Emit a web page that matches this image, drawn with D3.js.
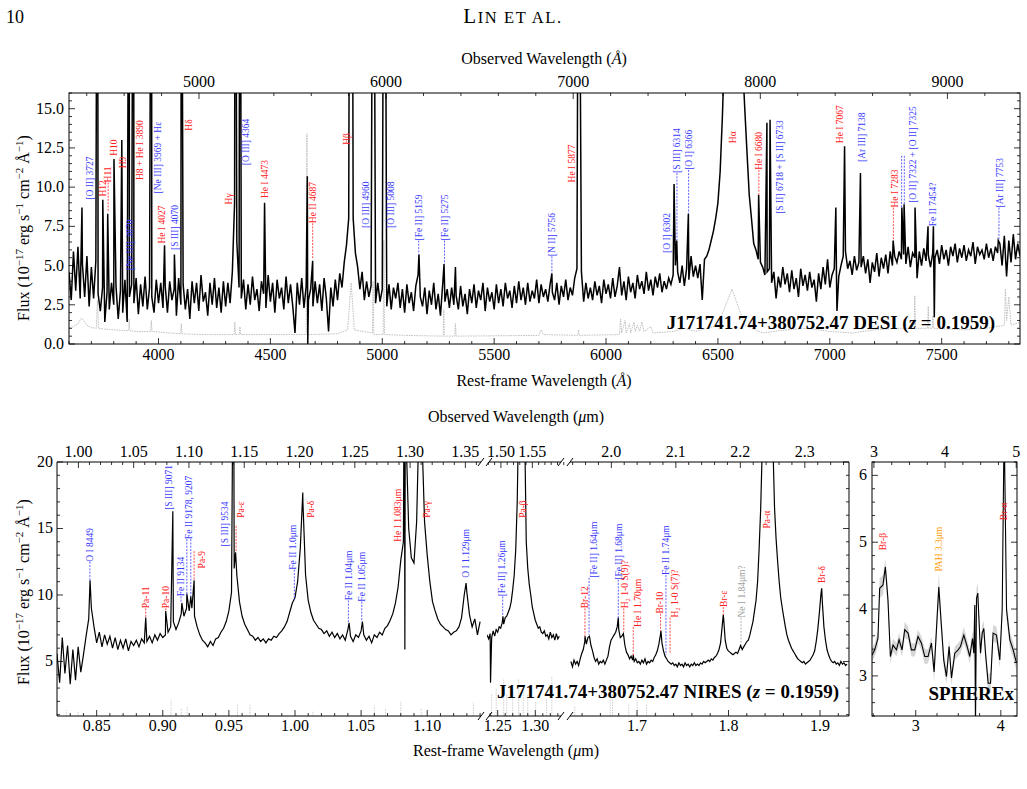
<!DOCTYPE html>
<html>
<head>
<meta charset="utf-8">
<script src="https://cdn.jsdelivr.net/npm/d3@7/dist/d3.min.js"></script>
<style>
body { margin: 0; background: #fff; }
svg { display: block; font-family: "Liberation Serif", "Times New Roman", serif; }
</style>
</head>
<body>
<div id="chart"></div>
<script>
const z = 0.1959;

// ---------- DESI optical spectrum (rest frame, Å) ----------
const desiStart = 3600, desiStep = 10;
const desiCont = [
  4.6, 2.8, 5.9, 3.4, 6.2, 2.9, 5.1, 3.0, 5.6, 2.4,   // 3600
  4.9, 2.9, 5.3, 3.2, 2.1, 3.6, 1.4, 3.3, 2.2, 3.9,   // 3700
  2.5, 3.7, 1.6, 3.4, 2.0, 4.1, 1.4, 3.0, 3.8, 2.6,   // 3800
  4.2, 1.9, 3.8, 2.4, 4.3, 2.2, 3.6, 3.0, 2.0, 4.1,   // 3900
  2.6, 3.9, 2.3, 3.7, 2.0, 4.0, 2.8, 3.5, 1.8, 4.2,   // 4000
  2.5, 3.8, 2.2, 3.5, 1.6, 4.0, 2.6, 3.9, 2.1, 4.4,   // 4100
  2.7, 3.3, 1.8, 3.9, 2.5, 4.2, 2.3, 3.6, 2.0, 4.0,   // 4200
  2.4, 3.9, 2.6, 4.6, 9.0, 6.5, 3.6, 2.9, 4.1, 2.2,   // 4300
  3.8, 2.5, 4.3, 2.8, 3.5, 2.1, 4.0, 3.2, 2.3, 4.4,   // 4400
  2.7, 3.9, 2.0, 4.1, 2.9, 3.6, 2.2, 4.3, 2.6, 3.8,   // 4500
  2.4, 0.7, 3.9, 2.5, 4.2, 2.3, 3.7, 2.8, 3.5, 2.4,   // 4600
  4.0, 2.6, 3.8, 2.1, 4.2, 2.9, 0.8, 3.6, 2.4, 4.1,   // 4700
  2.8, 4.5, 3.6, 5.2, 6.3, 8.0, 40, 8.0, 5.8, 4.9,    // 4800
  3.5, 4.6, 2.8, 4.0, 3.0, 3.7, 40, 2.6, 3.9, 2.7,    // 4900
  3.5, 40, 2.4, 3.8, 2.2, 3.6, 2.9, 3.9, 2.3, 3.5,    // 5000
  2.0, 3.8, 2.6, 3.3, 2.1, 3.7, 4.4, 3.0, 2.4, 3.6,   // 5100
  1.9, 3.4, 2.5, 3.9, 2.2, 3.2, 1.8, 3.8, 2.7, 3.5,   // 5200
  2.3, 3.6, 2.5, 3.1, 2.2, 3.7, 2.4, 3.2, 1.9, 3.5,   // 5300
  2.6, 3.8, 2.3, 3.4, 2.8, 3.9, 2.1, 3.6, 2.7, 3.3,   // 5400
  2.2, 3.8, 2.6, 3.5, 2.4, 3.9, 2.9, 3.4, 2.3, 3.7,   // 5500
  2.6, 4.0, 2.8, 3.6, 2.5, 3.9, 2.7, 3.4, 2.9, 4.1,   // 5600
  2.6, 3.8, 3.0, 3.5, 2.7, 3.8, 3.3, 2.8, 3.9, 2.5,   // 5700
  3.7, 3.0, 4.1, 2.8, 3.6, 3.1, 4.2, 4.8, 30, 4.6,    // 5800
  2.7, 3.9, 2.9, 3.6, 2.8, 4.0, 3.1, 3.7, 2.6, 4.1,   // 5900
  3.2, 3.8, 2.9, 4.2, 3.0, 3.7, 4.9, 3.1, 4.0, 2.8,   // 6000
  4.3, 3.3, 3.9, 2.9, 4.4, 3.5, 4.0, 3.2, 4.6, 3.4,   // 6100
  4.1, 3.1, 4.3, 3.6, 4.5, 3.3, 4.0, 3.5, 4.2, 3.8,   // 6200
  4.4, 5.0, 4.6, 3.9, 5.0, 3.7, 4.8, 4.1, 5.6, 4.3,   // 6300
  5.0, 4.2, 5.1, 2.8, 5.4, 5.6, 6.0, 6.6, 7.2, 8.0,   // 6400
  9.0, 11.0, 14.5, 19, 28, 40, 50, 50, 42, 32,        // 6500
  24, 18, 15.0, 12.2, 9.5, 8.0, 6.4, 6.0, 5.4, 5.2,   // 6600
  4.9, 4.4, 4.6, 4.8, 3.9, 4.6, 2.9, 4.3, 3.6, 4.9,   // 6700
  3.8, 4.5, 3.3, 4.7, 3.5, 4.2, 3.0, 4.8, 3.7, 4.4,   // 6800
  3.4, 4.6, 3.6, 4.1, 2.7, 4.5, 3.5, 4.9, 3.8, 5.4,   // 6900
  3.6, 4.4, 4.8, 4.1, 4.3, 5.0, 5.6, 5.9, 4.8, 5.3,   // 7000
  4.4, 5.6, 4.7, 5.2, 4.9, 5.6, 4.5, 5.4, 3.9, 5.2,   // 7100
  4.6, 5.8, 4.3, 5.5, 4.8, 5.7, 4.5, 5.9, 5.0, 5.6,   // 7200
  5.2, 5.9, 5.4, 5.7, 5.1, 6.2, 4.9, 5.8, 5.5, 4.2,   // 7300
  5.9, 5.0, 6.1, 5.3, 5.7, 4.9, 5.8, 5.5, 6.0, 5.1,   // 7400
  6.3, 5.4, 6.0, 5.0, 6.2, 5.6, 6.4, 5.2, 6.1, 5.5,   // 7500
  6.3, 5.3, 6.0, 5.6, 6.5, 5.1, 6.2, 5.7, 6.0, 5.4,   // 7600
  6.4, 5.5, 6.1, 5.3, 6.2, 5.8, 6.4, 5.0, 6.9, 4.3,   // 7700
  6.6, 5.2, 7.0, 5.4, 6.4, 5.6                        // 7800
];
// narrow emission / absorption features [wavelength, flux]
const desiLines = [
  [3658, 8.7], [3725, 30], [3728, 30], [3751, 9.2], [3773, 8.3], [3801, 11.8],
  [3836, 13.0], [3867, 30], [3869, 30], [3886, 30], [3889, 30], [3966, 30],
  [3969, 30], [4027, 6.3], [4071, 5.7], [4102, 30], [4104, 30], [4342, 30],
  [4345, 30], [4363, 30], [4366, 30], [4474, 9.0], [4665, 10.7], [4667, 0.0],
  [4689, 5.3], [4854, 30], [4866, 30], [4957, 30], [4963, 30], [5006, 30],
  [5013, 30], [5164, 5.7], [5276, 5.1], [5327, 4.9], [5758, 4.5], [5876, 30],
  [6304, 10.2], [6316, 6.6], [6368, 8.3], [6682, 9.5], [6719, 14.1], [6733, 14.3],
  [7027, 8.7], [7032, 2.1], [7066, 12.6], [7137, 10.9], [7283, 6.6], [7322, 8.7],
  [7332, 8.9], [7381, 8.7], [7439, 7.5], [7463, 7.5], [7467, 1.7], [7753, 6.6]
];
const desiErr = [
  [3600, 1.05], [3620, 1.1], [3640, 1.3], [3655, 1.65], [3665, 1.5], [3680, 1.2],
  [3700, 1.05], [3722, 1.0], [3727, 2.8], [3732, 1.0], [3760, 0.95], [3800, 0.9],
  [3866, 0.85], [3869, 1.6], [3872, 0.85], [3900, 0.8], [3965, 0.8], [3968, 1.5],
  [3971, 0.8], [4050, 0.7], [4099, 0.65], [4102, 1.3], [4105, 0.65], [4200, 0.6],
  [4300, 0.6], [4338, 0.6], [4341, 1.4], [4344, 0.6], [4361, 0.6], [4364, 1.1],
  [4367, 0.6], [4500, 0.6], [4600, 0.6], [4660, 0.6], [4663, 13.4], [4666, 0.6],
  [4800, 0.65], [4845, 0.9], [4861, 3.9], [4875, 0.9], [4956, 0.7], [4959, 4.0],
  [4962, 0.6], [5004, 0.6], [5007, 6.6], [5010, 0.6], [5100, 0.55], [5272, 0.5],
  [5275, 2.2], [5278, 0.5], [5324, 0.5], [5327, 1.3], [5330, 0.5], [5700, 0.55],
  [5710, 0.9], [5720, 0.6], [5874, 0.55], [5877, 0.9], [5880, 0.55], [6060, 0.6],
  [6065, 1.6], [6070, 0.7], [6085, 1.5], [6090, 0.7], [6105, 1.3], [6110, 0.7],
  [6125, 1.4], [6130, 0.8], [6140, 1.2], [6150, 0.8], [6160, 1.4], [6170, 0.8],
  [6200, 1.1], [6210, 0.7], [6300, 0.8], [6350, 1.0], [6400, 0.8], [6500, 1.2],
  [6563, 3.5], [6620, 1.2], [6700, 0.7], [6800, 0.9], [6900, 1.0], [7000, 0.8],
  [7100, 0.7], [7200, 0.9], [7300, 1.0], [7377, 1.0], [7380, 3.1], [7383, 1.0],
  [7437, 1.0], [7440, 2.4], [7443, 1.0], [7458, 1.0], [7461, 1.8], [7464, 1.0],
  [7600, 0.9], [7700, 1.0], [7780, 1.2], [7785, 3.5], [7790, 1.5], [7800, 3.0],
  [7810, 1.2], [7850, 1.4]
];
// [text, kind, wavelength of text, flux at text start, dashed connectors]
const desiLabels = [
  ["[O II] 3727", "M", 3691, 9.2],
  ["H12", "H", 3752, 9.4],
  ["H11", "H", 3775, 10.3, [[3775, 10.3, 8.4]]],
  ["H10", "H", 3801, 12.0],
  ["H9", "H", 3840, 11.2],
  ["[Ne III] 3870", "M", 3873, 4.7],
  ["H8 + He I 3890", "H", 3918, 10.45],
  ["[Ne III] 3969 + Hε", "M", 3998, 9.6],
  ["He I 4027", "H", 4016, 6.4],
  ["[S III] 4070", "M", 4071, 6.0],
  ["Hδ", "H", 4136, 13.6],
  ["Hγ", "H", 4312, 8.9],
  ["[O III] 4364", "M", 4388, 11.4],
  ["He I 4473", "H", 4473, 9.3],
  ["He II 4687", "H", 4689, 7.7, [[4689, 7.7, 5.4]]],
  ["Hβ", "H", 4843, 12.7],
  ["[O III] 4960", "M", 4925, 7.4],
  ["[O III] 5008", "M", 5037, 7.4],
  ["[Fe II] 5159", "M", 5163, 6.6, [[5163, 6.6, 5.7]]],
  ["[Fe II] 5275", "M", 5278, 6.6, [[5278, 6.6, 5.1]]],
  ["[N II] 5756", "M", 5758, 5.6, [[5758, 5.6, 4.5]]],
  ["He I 5877", "H", 5846, 10.3],
  ["[O I] 6302", "M", 6272, 5.8],
  ["[S III] 6314", "M", 6317, 10.9, [[6317, 10.9, 6.6]]],
  ["[O I] 6366", "M", 6369, 11.1, [[6369, 11.1, 8.3]]],
  ["Hα", "H", 6566, 12.8],
  ["He I 6680", "H", 6683, 11.1, [[6683, 11.1, 9.5]]],
  ["[S II] 6718 + [S II] 6733", "M", 6778, 8.3],
  ["He I 7067", "H", 7046, 12.8],
  ["[Ar III] 7138", "M", 7141, 11.6],
  ["He I 7283", "H", 7288, 8.7, [[7284, 8.7, 6.6]]],
  ["[O II] 7322 + [O II] 7325", "M", 7369, 9.0, [[7321, 12.0, 8.7], [7333, 12.0, 8.9]]],
  ["Fe II 7454?", "M", 7461, 7.5],
  ["[Ar III] 7753", "M", 7760, 8.7, [[7756, 8.7, 6.6]]]
];
const desiRestTicks = [4000, 4500, 5000, 5500, 6000, 6500, 7000, 7500];
const desiObsTicks = [5000, 6000, 7000, 8000, 9000];
const desiFluxTicks = [0, 2.5, 5, 7.5, 10, 12.5, 15];

// ---------- NIRES near-IR spectrum (rest frame, µm) ----------
const niresStep = 0.002;
const niresStarts = [0.820, 1.236, 1.620];
const niresCont1 = [
  5.6, 3.4, 6.8, 4.1, 6.2, 3.3, 5.9, 3.6, 6.1, 4.2,    // 0.820
  5.5, 6.9, 8.2, 9.0, 7.6, 6.4, 7.2, 6.1, 7.0, 6.3,    // 0.840
  6.9, 6.0, 6.8, 5.9, 6.6, 6.0, 6.7, 5.8, 6.5, 6.2,    // 0.860
  6.6, 6.1, 6.7, 6.4, 6.5, 6.9, 6.4, 7.0, 6.6, 7.1,    // 0.880
  6.8, 7.0, 7.2, 7.6, 8.0, 7.4, 7.9, 8.6, 8.4, 9.0,    // 0.900
  8.8, 9.0, 8.4, 7.6, 7.0, 6.6, 6.4, 6.1, 6.5, 6.2,    // 0.920
  6.7, 6.8, 7.2, 7.5, 8.0, 8.8, 10.2, 12.0, 11.5, 9.5, // 0.940
  8.4, 7.8, 7.4, 7.0, 6.9, 6.6, 6.8, 6.5, 6.7, 6.4,    // 0.960
  6.7, 6.6, 6.9, 6.8, 7.1, 7.3, 7.6, 8.0, 8.7, 9.4,    // 0.980
  9.8, 11.0, 13.5, 17.0, 11.5, 9.6, 8.7, 8.1, 7.8, 7.5,// 1.000
  7.4, 7.1, 7.3, 6.9, 7.2, 6.8, 7.1, 6.7, 7.0, 6.6,    // 1.020
  7.4, 6.9, 6.5, 7.0, 6.8, 7.3, 7.0, 6.6, 6.9, 6.4,    // 1.040
  7.0, 6.8, 7.2, 7.0, 7.5, 7.7, 8.1, 8.6, 9.4, 10.6,   // 1.060
  12.6, 14.0, 22, 15, 12.8, 12.4, 15.5, 24, 22, 15.5,  // 1.080
  13.0, 11.0, 9.5, 8.8, 8.2, 7.8, 7.6, 7.4, 7.3, 7.0,  // 1.100
  7.2, 7.3, 7.6, 8.3, 10.0, 10.2, 8.5, 7.6, 8.2, 7.0,  // 1.120
  8.0                                                   // 1.140
];
const niresCont2 = [
  7.0, 6.7, 7.1, 6.8, 7.3, 6.9, 7.4, 7.2, 7.6, 7.5,    // 1.236
  7.9, 7.8, 8.3, 8.4, 8.7, 9.0, 9.5, 10.4, 11.5, 13.4, // 1.256
  17.0, 24, 30, 30, 30, 22, 14.0, 12.0, 10.8, 10.0,    // 1.276
  9.1, 8.6, 8.1, 7.8, 7.5, 7.6, 7.2, 7.1, 7.3, 6.9,    // 1.296
  7.0, 6.7, 7.2, 6.8, 7.0, 6.6, 7.1, 6.7, 6.9          // 1.316
];
const niresCont3 = [
  5.0, 4.6, 5.1, 4.8, 5.0, 4.7, 5.2, 5.6, 5.9, 6.5,    // 1.620
  6.3, 6.8, 6.9, 6.2, 5.8, 5.3, 5.0, 5.2, 4.8, 5.0,    // 1.640
  4.9, 5.1, 4.8, 5.1, 5.4, 6.1, 6.6, 6.8, 7.0, 7.2,    // 1.660
  7.6, 7.4, 6.8, 6.9, 7.1, 6.2, 5.7, 5.5, 5.2, 5.4,    // 1.680
  5.1, 5.0, 5.2, 4.9, 5.0, 4.8, 5.1, 4.9, 5.2, 4.8,    // 1.700
  5.0, 4.9, 5.1, 5.0, 5.3, 5.5, 5.8, 6.3, 7.0, 6.4,    // 1.720
  5.8, 5.4, 5.2, 5.0, 4.9, 4.8, 4.9, 4.7, 4.8, 4.6,    // 1.740
  4.9, 4.7, 4.8, 4.6, 4.9, 4.7, 4.8, 4.6, 4.8, 4.7,    // 1.760
  4.9, 4.7, 4.8, 4.7, 4.9, 4.8, 5.0, 4.9, 5.0, 5.1,    // 1.780
  5.0, 5.2, 5.1, 5.3, 5.4, 5.6, 5.9, 6.4, 7.6, 8.2,    // 1.800
  6.6, 6.0, 5.8, 5.7, 5.6, 5.5, 5.6, 5.7, 5.6, 5.9,    // 1.820
  6.2, 5.9, 6.1, 6.3, 6.5, 6.6, 7.0, 7.5, 8.0, 8.8,    // 1.840
  9.6, 11.0, 13.5, 16.5, 21, 28, 34, 38, 38, 34,       // 1.860
  27, 21, 16.5, 14.2, 12.5, 11.0, 9.8, 9.0, 8.3, 7.6,  // 1.880
  7.0, 6.6, 6.3, 6.0, 5.8, 5.6, 5.4, 5.2, 5.1, 5.0,    // 1.900
  4.9, 5.0, 4.8, 4.9, 5.0, 5.1, 5.3, 5.5, 5.8, 6.5,    // 1.920
  7.4, 8.6, 10.0, 9.4, 7.6, 6.6, 5.9, 5.5, 5.2, 5.0,   // 1.940
  4.9, 5.0, 4.8, 4.9, 4.7, 5.0, 4.8, 4.9, 4.7, 4.8     // 1.960
];
const niresLines = [
  [0.845, 11.1], [0.8871, 8.3], [0.9022, 8.8], [0.9076, 16.3], [0.9144, 9.4],
  [0.9182, 10.1], [0.9212, 9.9], [0.9237, 11.1], [0.9533, 30], [0.9536, 30],
  [0.9551, 13.2], [1.0059, 17.7], [1.0409, 7.9], [1.051, 8.0], [1.0827, 30],
  [1.0831, 5.9], [1.0835, 30], [1.0946, 30], [1.1294, 10.9],
  [1.2405, 3.4], [1.257, 8.4],
  [1.6382, 6.9], [1.6814, 8.3], [1.7008, 5.5], [1.7367, 7.3], [1.8175, 8.5],
  [1.9451, 10.5]
];
const niresErrSpikes = [
  [0.827, 1.35], [0.836, 1.25], [0.9063, 2.1], [0.914, 1.5], [0.9185, 1.6],
  [0.9565, 1.8], [0.966, 1.75], [1.0135, 1.3], [1.06, 1.7], [1.0685, 1.5],
  [1.08, 2.0], [1.0955, 1.5], [1.135, 1.9],
  [1.242, 2.6], [1.248, 3.0], [1.258, 3.7], [1.262, 2.5], [1.27, 2.8],
  [1.278, 3.7], [1.284, 2.9], [1.29, 2.5], [1.3005, 2.0], [1.315, 2.2], [1.322, 3.9],
  [1.625, 1.6], [1.671, 3.6], [1.674, 2.5], [1.695, 1.8], [1.706, 2.1],
  [1.718, 1.8], [1.73, 1.3]
];
const niresLabels = [
  ["O I 8449", "M", 0.8445, 12.5, [[0.8449, 12.5, 11.1]]],
  ["Pa-11", "H", 0.8871, 9.0, [[0.8871, 9.0, 8.3]]],
  ["Pa-10", "H", 0.9023, 9.0, [[0.9023, 9.0, 8.8]]],
  ["[S III] 9071", "M", 0.9042, 16.4],
  ["Fe II 9134", "M", 0.9138, 9.9, [[0.9138, 9.9, 9.4]]],
  ["Fe II 9178, 9207", "M", 0.9199, 14.2, [[0.9182, 14.2, 10.1], [0.9212, 14.2, 9.9]]],
  ["Pa-9", "H", 0.9295, 12.0, [[0.9237, 13.3, 11.1]]],
  ["[S III] 9534", "M", 0.9466, 13.65],
  ["Pa-ε", "H", 0.959, 15.8, [[0.9555, 15.2, 13.2]]],
  ["Fe II 1.0μm", "M", 0.9983, 11.9, [[0.9995, 11.9, 9.6]]],
  ["Pa-δ", "H", 1.012, 15.8],
  ["Fe II 1.04μm", "M", 1.0404, 9.6, [[1.0404, 9.6, 7.9]]],
  ["Fe II 1.05μm", "M", 1.0505, 9.5, [[1.0505, 9.5, 8.0]]],
  ["He I 1.083μm", "H", 1.0775, 14.0],
  ["Pa-γ", "H", 1.0997, 15.8],
  ["O I 1.129μm", "M", 1.1294, 11.3],
  ["[Fe II] 1.26μm", "M", 1.2557, 9.9, [[1.2567, 9.9, 8.4]]],
  ["Pa-β", "H", 1.2836, 15.8],
  ["Br-12", "H", 1.6382, 9.0, [[1.6382, 9.0, 6.9]]],
  ["[Fe II] 1.64μm", "M", 1.649, 11.3, [[1.6435, 11.3, 7.0]]],
  ["[Fe II] 1.68μm", "M", 1.6814, 11.15, [[1.6814, 11.15, 8.3]]],
  ["H₂ 1-0 S(9)?", "H", 1.6901, 9.0, [[1.6885, 9.0, 7.2]]],
  ["He I 1.70μm", "H", 1.7065, 7.6, [[1.7008, 7.6, 5.4]]],
  ["Br-10", "H", 1.7355, 8.6, [[1.7362, 8.6, 7.3]]],
  ["Fe II 1.74μm", "M", 1.7432, 11.5, [[1.7432, 11.5, 5.5]]],
  ["H₂ 1-0 S(7)?", "H", 1.7549, 8.3, [[1.7485, 8.3, 5.6]]],
  ["Br-ε", "H", 1.8175, 9.1, [[1.8175, 9.1, 8.5]]],
  ["Ne I 1.84μm?", "U", 1.8414, 8.3, [[1.8405, 8.3, 6.25]]],
  ["Pa-α", "H", 1.8738, 15.0],
  ["Br-δ", "H", 1.9451, 10.9]
];
const niresRestTicks = [[0.85, 0.90, 0.95, 1.00, 1.05, 1.10], [1.25, 1.30], [1.7, 1.8, 1.9]];
const niresObsTicks = [[1.00, 1.05, 1.10, 1.15, 1.20, 1.25, 1.30, 1.35], [1.50, 1.55], [2.0, 2.1, 2.2, 2.3]];
const niresFluxTicks = [5, 10, 15, 20];

// ---------- SPHEREx ----------
const sphxWave = [2.486, 2.518, 2.556, 2.576, 2.615, 2.643, 2.674, 2.702, 2.733, 2.773,
  2.804, 2.839, 2.871, 2.910, 2.949, 2.988, 3.027, 3.067, 3.106, 3.145,
  3.184, 3.216, 3.271, 3.302, 3.329, 3.361, 3.392, 3.420, 3.459, 3.498,
  3.526, 3.565, 3.604, 3.635, 3.667, 3.682, 3.694, 3.702, 3.714, 3.729,
  3.745, 3.761, 3.781, 3.800, 3.820, 3.851, 3.879, 3.909, 3.949, 3.988,
  4.016, 4.039, 4.067, 4.106, 4.145, 4.184];
const sphxFlux = [3.31, 3.39, 3.56, 4.31, 4.36, 4.63, 4.13, 3.29, 3.46, 3.39,
  3.54, 3.39, 3.69, 3.64, 3.39, 3.39, 3.59, 3.49, 3.29, 3.29,
  3.49, 3.06, 4.33, 3.74, 3.24, 2.99, 3.44, 2.97, 3.34, 3.39,
  3.44, 3.61, 3.44, 3.29, 3.56, 3.34, 4.06, 2.2, 4.16, 4.24,
  3.79, 3.34, 3.64, 3.71, 3.34, 2.89, 2.89, 3.64, 3.61, 3.24,
  3.99, 6.8, 3.99, 3.54, 3.39, 3.19];
const sphxErr = [0.10, 0.10, 0.12, 0.15, 0.15, 0.12, 0.15, 0.10, 0.10, 0.10,
  0.10, 0.10, 0.12, 0.10, 0.10, 0.10, 0.10, 0.10, 0.12, 0.10,
  0.10, 0.15, 0.20, 0.15, 0.12, 0.12, 0.12, 0.12, 0.10, 0.10,
  0.10, 0.12, 0.10, 0.10, 0.12, 0.12, 0.15, 0.20, 0.15, 0.15,
  0.12, 0.12, 0.12, 0.12, 0.12, 0.15, 0.15, 0.12, 0.12, 0.12,
  0.15, 0.25, 0.15, 0.12, 0.12, 0.12];
const sphxLabels = [
  ["Br-β", "H", 2.615, 4.88],
  ["PAH 3.3μm", "P", 3.271, 4.56],
  ["Br-α", "H", 4.035, 5.33]
];
const sphxRestTicks = [3, 4];
const sphxObsTicks = [3, 4, 5];
const sphxFluxTicks = [3, 4, 5, 6];

// ---------------------------------------------------------------
const colors = { H: "#ff2020", M: "#3a3aff", U: "#a0a0a0", P: "#ff9900" };
const tickFont = 16;

const svg = d3.select("#chart").append("svg").attr("width", 1027).attr("height", 789);
const defs = svg.append("defs");

function clip(id, x0, y0, x1, y1) {
  defs.append("clipPath").attr("id", id).append("rect")
    .attr("x", x0).attr("y", y0).attr("width", x1 - x0).attr("height", y1 - y0);
}

function merge(start, step, cont, lines) {
  const hi = start + (cont.length - 1) * step;
  const pts = cont.map((f, i) => [start + i * step, f]);
  lines.forEach(d => { if (d[0] > start && d[0] < hi) pts.push(d); });
  return pts.sort((a, b) => a[0] - b[0]);
}

function vTick(g, x, y, len) {
  g.append("line").attr("x1", x).attr("x2", x).attr("y1", y).attr("y2", y + len)
    .attr("stroke", "#000").attr("stroke-width", 0.8);
}
function hTick(g, x, y, len) {
  g.append("line").attr("x1", x).attr("x2", x + len).attr("y1", y).attr("y2", y)
    .attr("stroke", "#000").attr("stroke-width", 0.8);
}
function label(g, x, y, text, size, anchor) {
  return g.append("text").attr("x", x).attr("y", y).attr("font-size", size)
    .attr("text-anchor", anchor || "middle").text(text);
}

function drawLabels(g, labels, xs, ys) {
  labels.forEach(([t, kind, lam, v0, dashes]) => {
    const c = colors[kind];
    (dashes || []).forEach(([l, a, b]) => {
      const x = xs(l);
      if (x == null) return;
      g.append("line").attr("x1", x).attr("x2", x).attr("y1", ys(a)).attr("y2", ys(b))
        .attr("stroke", c).attr("stroke-width", 0.8).attr("stroke-dasharray", "2,1.3");
    });
    const x = xs(lam);
    if (x == null) return;
    g.append("text").attr("transform", `translate(${x},${ys(v0)}) rotate(-90)`)
      .attr("dy", "0.35em").attr("font-size", 9.5).attr("fill", c).text(t);
  });
}

function fluxTitle(x, y) {
  const t = svg.append("text").attr("transform", `translate(${x},${y}) rotate(-90)`)
    .attr("text-anchor", "middle").attr("font-size", 16);
  t.append("tspan").text("Flux (10");
  t.append("tspan").attr("baseline-shift", "super").attr("font-size", 11).text("−17");
  t.append("tspan").text(" erg s");
  t.append("tspan").attr("baseline-shift", "super").attr("font-size", 11).text("−1");
  t.append("tspan").text(" cm");
  t.append("tspan").attr("baseline-shift", "super").attr("font-size", 11).text("−2");
  t.append("tspan").text(" Å");
  t.append("tspan").attr("baseline-shift", "super").attr("font-size", 11).text("−1");
  t.append("tspan").text(")");
}
function wlTitle(x, y, prefix, italicPart, rest) {
  const t = label(svg, x, y, "", 16);
  t.append("tspan").text(prefix + " (");
  t.append("tspan").attr("font-style", "italic").text(italicPart);
  t.append("tspan").text(rest + ")");
}
function objTitle(g, x, y, name) {
  const t = label(g, x, y, "", 19, "end").attr("font-weight", "bold");
  t.append("tspan").text(name + " (");
  t.append("tspan").attr("font-style", "italic").text("z");
  t.append("tspan").text(" = 0.1959)");
}

// header
label(svg, 6, 23, "10", 18, "start");
const hdr = label(svg, 513, 23, "", 21).attr("letter-spacing", 1.6);
hdr.append("tspan").text("L");
hdr.append("tspan").attr("font-size", 16.5).text("IN ET AL.");

// ================= DESI panel =================
const dX = d3.scaleLinear().domain([3600, 7850]).range([69, 1020]);
const dY = d3.scaleLinear().domain([0, 16]).range([344, 93]);
clip("clipD", 69, 93, 1020, 344);
const gD = svg.append("g");
const gDc = gD.append("g").attr("clip-path", "url(#clipD)");
const dLine = d3.line().x(d => dX(d[0])).y(d => dY(d[1]));

gDc.append("path").datum(desiErr).attr("d", dLine).attr("fill", "none")
  .attr("stroke", "#b8b8b8").attr("stroke-width", 0.9).attr("stroke-dasharray", "1.5,1");
gDc.append("path").datum(merge(desiStart, desiStep, desiCont, desiLines)).attr("d", dLine)
  .attr("fill", "none").attr("stroke", "#000").attr("stroke-width", 1.5);
drawLabels(gD, desiLabels, dX, dY);
objTitle(gD, 995, 329, "J171741.74+380752.47 DESI");

// axes
d3.range(3600, 7851, 100).forEach(v => {
  const len = desiRestTicks.includes(v) ? 6 : 3;
  vTick(gD, dX(v), 344, -len);
});
desiRestTicks.forEach(v => label(gD, dX(v), 360, v, tickFont));
d3.range(4400, 9400, 200).forEach(o => {
  const r = o / (1 + z);
  if (r < 3600 || r > 7850) return;
  vTick(gD, dX(r), 93, desiObsTicks.includes(o) ? 6 : 3);
});
desiObsTicks.forEach(o => label(gD, dX(o / (1 + z)), 87, o, tickFont));
d3.range(0, 16.01, 0.5).forEach(v => {
  const major = desiFluxTicks.includes(v);
  hTick(gD, 69, dY(v), major ? 6 : 3);
  hTick(gD, 1020, dY(v), major ? -6 : -3);
});
desiFluxTicks.forEach(v => label(gD, 64, dY(v) + 5, d3.format(".1f")(v), tickFont, "end"));
gD.append("rect").attr("x", 69).attr("y", 93).attr("width", 951).attr("height", 251)
  .attr("fill", "none").attr("stroke", "#000").attr("stroke-width", 1);

wlTitle(544, 64, "Observed Wavelength", "Å", "");
wlTitle(544, 386, "Rest-frame Wavelength", "Å", "");
fluxTitle(29, 228);

// ================= NIRES panel =================
const nY = d3.scaleLinear().domain([0.9, 20]).range([716, 462]);
const segs = [
  { dom: [0.82, 1.1422], rng: [57, 483] },
  { dom: [1.2358, 1.3382], rng: [487, 564] },
  { dom: [1.6162, 1.9805], rng: [568, 849] }
];
segs.forEach((s, i) => {
  s.x = d3.scaleLinear().domain(s.dom).range(s.rng);
  s.tx = s.x;
  clip("clipN" + i, s.rng[0], 462, s.rng[1], 716);
});
// the printed rest-frame ticks of the last segment sit on their own spacing
segs[2].tx = d3.scaleLinear().domain([1.7, 1.9]).range([637, 820]);
function nX(l) {
  const s = segs.find(s => l >= s.dom[0] && l <= s.dom[1]);
  return s ? s.x(l) : null;
}
const gN = svg.append("g");
const niresConts = [niresCont1, niresCont2, niresCont3];
segs.forEach((s, i) => {
  const g = gN.append("g").attr("clip-path", `url(#clipN${i})`);
  niresErrSpikes.filter(d => d[0] >= s.dom[0] && d[0] <= s.dom[1]).forEach(d => {
    g.append("line").attr("x1", s.x(d[0])).attr("x2", s.x(d[0]))
      .attr("y1", nY(0.9)).attr("y2", nY(d[1]))
      .attr("stroke", "#c4c4c4").attr("stroke-width", 0.8).attr("stroke-dasharray", "1.5,1");
  });
  const line = d3.line().x(d => s.x(d[0])).y(d => nY(d[1]));
  g.append("path").datum(merge(niresStarts[i], niresStep, niresConts[i], niresLines))
    .attr("d", line).attr("fill", "none").attr("stroke", "#000").attr("stroke-width", 1.2);

  // ticks
  const fine = i === 2 ? 0.02 : 0.01;
  const fmt = d3.format(i === 2 ? ".1f" : ".2f");
  const [x0, x1] = s.rng;
  d3.range(Math.round(s.tx.invert(x0) / fine) * fine, s.tx.invert(x1), fine).forEach(v => {
    const x = s.tx(v);
    if (x < x0 + 1 || x > x1 - 1) return;
    const major = niresRestTicks[i].some(t => Math.abs(t - v) < 1e-6);
    vTick(gN, x, 716, major ? -6 : -3);
  });
  niresRestTicks[i].forEach(v => label(gN, s.tx(v), 731, fmt(v), tickFont));
  const lo = s.dom[0] * (1 + z), hi = s.dom[1] * (1 + z);
  d3.range(Math.ceil(lo / fine) * fine, hi, fine).forEach(o => {
    const major = niresObsTicks[i].some(t => Math.abs(t - o) < 1e-6);
    vTick(gN, s.x(o / (1 + z)), 462, major ? 6 : 3);
  });
  niresObsTicks[i].forEach(o => label(gN, s.x(o / (1 + z)), 457, fmt(o), tickFont));
});
drawLabels(gN, niresLabels, nX, nY);
objTitle(gN, 839, 698, "J171741.74+380752.47 NIRES");

d3.range(1, 20.01, 1).forEach(v => {
  const major = niresFluxTicks.includes(v);
  hTick(gN, 57, nY(v), major ? 6 : 3);
  hTick(gN, 849, nY(v), major ? -6 : -3);
});
niresFluxTicks.forEach(v => label(gN, 53, nY(v) + 5, v, tickFont, "end"));

// frame with axis breaks
[[57, 481], [489, 561], [570, 849]].forEach(([a, b]) => {
  [462, 716].forEach(y => gN.append("line").attr("x1", a).attr("x2", b).attr("y1", y).attr("y2", y)
    .attr("stroke", "#000").attr("stroke-width", 1));
});
[481, 489, 561, 570].forEach(x => {
  [462, 716].forEach(y => gN.append("line").attr("x1", x - 3).attr("x2", x + 3)
    .attr("y1", y + 4).attr("y2", y - 4).attr("stroke", "#000").attr("stroke-width", 1));
});
[57, 849].forEach(x => gN.append("line").attr("x1", x).attr("x2", x).attr("y1", 462).attr("y2", 716)
  .attr("stroke", "#000").attr("stroke-width", 1));

wlTitle(516, 422, "Observed Wavelength", "μ", "m");
wlTitle(506, 756, "Rest-frame Wavelength", "μ", "m");
fluxTitle(29, 592);

// ================= SPHEREx panel =================
const sX = d3.scaleLinear().domain([2.486, 4.19]).range([872, 1017]);
const sY = d3.scaleLinear().domain([2.4, 6.2]).range([716, 462]);
clip("clipS", 872, 462, 1017, 716);
const gS = svg.append("g");
const gSc = gS.append("g").attr("clip-path", "url(#clipS)");
const sData = sphxWave.map((w, i) => ({ w, f: sphxFlux[i], e: sphxErr[i] }));
gSc.append("path").datum(sData)
  .attr("d", d3.area().x(d => sX(d.w)).y0(d => sY(d.f - d.e)).y1(d => sY(d.f + d.e)))
  .attr("fill", "#d6d6d6");
gSc.append("path").datum(sData)
  .attr("d", d3.line().x(d => sX(d.w)).y(d => sY(d.f)))
  .attr("fill", "none").attr("stroke", "#000").attr("stroke-width", 1.1);
drawLabels(gS, sphxLabels, sX, sY);
label(gS, 1014, 700, "SPHEREx", 19, "end").attr("font-weight", "bold");

d3.range(2.5, 4.19, 0.25).forEach(v => vTick(gS, sX(v), 716, sphxRestTicks.includes(v) ? -6 : -3));
sphxRestTicks.forEach(v => label(gS, sX(v), 731, v, tickFont));
d3.range(3, 5.01, 0.25).forEach(o => {
  const r = o / (1 + z);
  if (r > 4.19) return;
  vTick(gS, sX(r), 462, sphxObsTicks.includes(o) ? 6 : 3);
});
sphxObsTicks.forEach(o => label(gS, sX(o / (1 + z)), 457, o, tickFont));
d3.range(2.4, 6.21, 0.2).forEach(v => {
  const major = sphxFluxTicks.some(t => Math.abs(t - v) < 1e-6);
  hTick(gS, 872, sY(v), major ? 6 : 3);
  hTick(gS, 1017, sY(v), major ? -6 : -3);
});
sphxFluxTicks.forEach(v => label(gS, 867, sY(v) + 5, v, tickFont, "end"));
gS.append("rect").attr("x", 872).attr("y", 462).attr("width", 145).attr("height", 254)
  .attr("fill", "none").attr("stroke", "#000").attr("stroke-width", 1);
</script>
</body>
</html>
